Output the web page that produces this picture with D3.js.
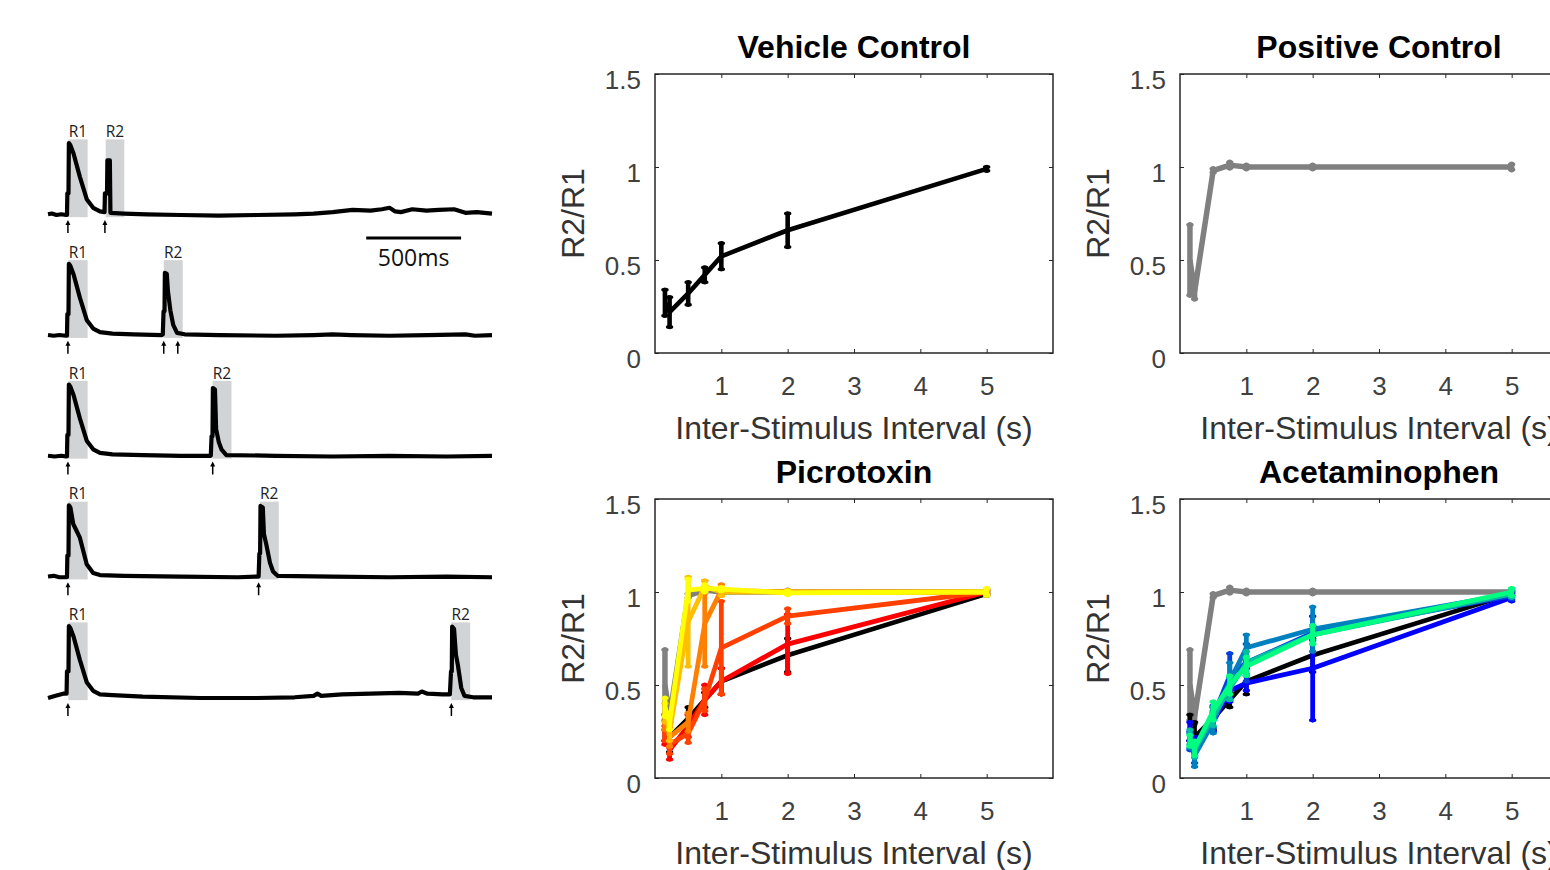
<!DOCTYPE html>
<html>
<head>
<meta charset="utf-8">
<script src="https://cdnjs.cloudflare.com/ajax/libs/d3/7.8.5/d3.min.js"></script>
<style>
  body { margin: 0; background: #fff; }
  svg { display: block; }
</style>
</head>
<body>
<svg id="fig" width="1550" height="870"></svg>
<script>
// ---------- paired-pulse data (R2/R1 vs inter-stimulus interval) ----------
let isi = [0.15, 0.22, 0.5, 0.75, 1, 2, 5];

let vehicleMean = [0.27, 0.22, 0.32, 0.42, 0.52, 0.66, 0.99];
let vehicleErr  = [0.07, 0.08, 0.06, 0.04, 0.07, 0.09, 0.01];

let positiveMean = [0.5, 0.33, 0.98, 1.01, 1.0, 1.0, 1.0];
let positiveErr  = [0.19, 0.04, 0.01, 0.015, 0.01, 0.01, 0.015];

let picroColors = ["#ff0000", "#ff4000", "#ff8000", "#ffbf00", "#ffff00"];
let picroMean = [
  [0.22, 0.15, 0.28, 0.42, 0.52, 0.72, 1.0],
  [0.24, 0.18, 0.24, 0.42, 0.70, 0.87, 1.0],
  [0.30, 0.22, 0.30, 0.83, 1.01, 1.0, 1.0],
  [0.35, 0.25, 0.84, 1.03, 1.0, 1.0, 1.0],
  [0.38, 0.30, 1.01, 1.02, 1.015, 0.995, 1.0]
];
let picroErr = [
  [0.04, 0.05, 0.06, 0.08, 0.07, 0.16, 0.01],
  [0.04, 0.05, 0.05, 0.06, 0.25, 0.04, 0.01],
  [0.04, 0.05, 0.05, 0.23, 0.03, 0.01, 0.01],
  [0.05, 0.05, 0.24, 0.03, 0.02, 0.01, 0.01],
  [0.05, 0.04, 0.06, 0.02, 0.01, 0.01, 0.02]
];

let acetaColors = ["#0000ff", "#0040df", "#0080bf", "#00bf9f", "#00ff80"];
let acetaMean = [
  [0.25, 0.17, 0.30, 0.47, 0.51, 0.59, 0.97],
  [0.20, 0.13, 0.33, 0.55, 0.62, 0.78, 0.98],
  [0.20, 0.12, 0.30, 0.52, 0.70, 0.80, 0.99],
  [0.22, 0.15, 0.33, 0.48, 0.62, 0.77, 0.99],
  [0.20, 0.16, 0.36, 0.50, 0.60, 0.77, 1.0]
];
let acetaErr = [
  [0.05, 0.05, 0.05, 0.06, 0.04, 0.28, 0.02],
  [0.05, 0.05, 0.06, 0.12, 0.10, 0.04, 0.02],
  [0.04, 0.06, 0.06, 0.10, 0.07, 0.12, 0.02],
  [0.04, 0.04, 0.05, 0.06, 0.06, 0.05, 0.02],
  [0.03, 0.04, 0.05, 0.05, 0.05, 0.05, 0.02]
];

let xTicks = [1, 2, 3, 4, 5];
let yTicks = [0, 0.5, 1, 1.5];
let panelTitles = ["Vehicle Control", "Positive Control", "Picrotoxin", "Acetaminophen"];
let xLabel = "Inter-Stimulus Interval (s)";
let yLabel = "R2/R1";

// ---------- example traces: [time (ms), amplitude / R1 peak] ----------
let traceRows = [
  [[0, 0.01], [20, 0.02], [45, 0.0], [70, 0.01], [95, 0.0], [100, 0.0], [102, 0.3], [108, 0.3], [110, 1.0], [118, 0.97],
   [135, 0.85], [168, 0.53], [204, 0.22], [238, 0.1], [274, 0.05], [298, 0.04], [300, 0.3], [311, 0.3], [313, 0.76],
   [326, 0.76], [329, 0.03], [400, 0.02], [520, 0.01], [700, 0.0], [900, -0.01], [1100, 0.0], [1300, 0.01], [1400, 0.02],
   [1500, 0.04], [1605, 0.07], [1700, 0.06], [1760, 0.08], [1800, 0.1], [1830, 0.05], [1860, 0.04], [1920, 0.08],
   [1995, 0.06], [2060, 0.07], [2140, 0.08], [2200, 0.03], [2260, 0.04], [2300, 0.03], [2340, 0.02]],
  [[0, 0.01], [30, 0.0], [60, 0.01], [95, 0.0], [100, 0.0], [102, 0.3], [108, 0.3], [110, 1.0], [118, 0.97],
   [135, 0.85], [168, 0.53], [204, 0.22], [238, 0.1], [274, 0.05], [340, 0.03], [450, 0.02], [600, 0.01],
   [605, 0.02], [609, 0.34], [614, 0.34], [616, 0.875], [626, 0.86], [632, 0.62], [645, 0.35], [660, 0.15],
   [680, 0.04], [720, 0.02], [900, 0.01], [1200, 0.0], [1400, 0.01], [1500, 0.02], [1600, 0.01], [1800, 0.0],
   [2000, 0.01], [2200, 0.02], [2250, 0.0], [2340, 0.01]],
  [[0, 0.01], [35, 0.0], [70, 0.01], [95, 0.0], [100, 0.0], [102, 0.3], [108, 0.3], [110, 1.0], [118, 0.97],
   [135, 0.85], [168, 0.53], [204, 0.22], [238, 0.1], [274, 0.05], [340, 0.03], [500, 0.02], [700, 0.01],
   [858, 0.01], [862, 0.28], [867, 0.28], [869, 0.95], [880, 0.93], [886, 0.38], [900, 0.2], [914, 0.1],
   [940, 0.02], [1200, 0.01], [1500, 0.0], [1800, 0.01], [2100, 0.0], [2340, 0.01]],
  [[0, 0.01], [30, 0.02], [60, 0.0], [95, 0.0], [100, 0.0], [102, 0.3], [108, 0.3], [110, 1.0], [118, 0.97],
   [133, 0.74], [168, 0.55], [204, 0.18], [238, 0.06], [274, 0.03], [400, 0.02], [700, 0.01], [1000, 0.0],
   [1110, 0.01], [1114, 0.33], [1118, 0.33], [1120, 0.99], [1132, 0.97], [1138, 0.6], [1151, 0.45], [1170, 0.2],
   [1186, 0.08], [1210, 0.02], [1500, 0.01], [1800, 0.0], [2100, 0.01], [2340, 0.0]],
  [[0, 0.0], [40, 0.03], [80, 0.06], [98, 0.06], [100, 0.37], [108, 0.37], [110, 1.0], [118, 0.97],
   [135, 0.85], [168, 0.53], [204, 0.22], [238, 0.1], [274, 0.05], [340, 0.04], [500, 0.02], [800, 0.0],
   [1100, 0.0], [1300, 0.01], [1400, 0.03], [1420, 0.06], [1440, 0.03], [1550, 0.05], [1700, 0.06], [1850, 0.07],
   [1950, 0.06], [1970, 0.09], [2000, 0.06], [2080, 0.05], [2118, 0.05], [2124, 0.37], [2128, 0.37], [2130, 0.99],
   [2140, 0.96], [2150, 0.6], [2160, 0.46], [2178, 0.14], [2195, 0.03], [2240, 0.01], [2340, 0.01]]
];
let traceStims = [[105, 300], [105, 610, 684], [105, 868], [105, 1110], [105, 2126]];
let r1Window = [107, 209];
let r2Windows = [[304, 402], [610, 710], [867, 967], [1116, 1216], [2125, 2225]];
let scaleBar = [1677, 2177];
let scaleBarText = "500ms";

// ---------- drawing ----------
let svg = d3.select("#fig");
svg.append("rect").attr("width", 1550).attr("height", 870).attr("fill", "#fff");

let traceFont = "'Open Sans', 'DejaVu Sans', sans-serif";
let tScale = d3.scaleLinear().domain([0, 2340]).range([48, 492]);

traceRows.forEach(function (row, i) {
  let base = 215 + i * 120.75;
  let yA = d3.scaleLinear().domain([0, 1]).range([base, base - 72]);
  let g = svg.append("g");
  let wins = [{w: r1Window, name: "R1"}, {w: r2Windows[i], name: "R2"}];

  // shaded response windows
  g.selectAll("rect")
    .data(wins)
    .join("rect")
    .attr("x", d => tScale(d.w[0]))
    .attr("y", yA(1.05))
    .attr("width", d => tScale(d.w[1]) - tScale(d.w[0]))
    .attr("height", yA(-0.03) - yA(1.05))
    .attr("fill", "#d2d3d5");

  g.selectAll("text")
    .data(wins)
    .join("text")
    .attr("x", d => (tScale(d.w[0]) + tScale(d.w[1])) / 2)
    .attr("y", yA(1.08))
    .attr("text-anchor", "middle")
    .attr("font-family", traceFont)
    .attr("font-size", 15.5)
    .attr("fill", "#222")
    .text(d => d.name);

  g.append("path")
    .datum(row)
    .attr("d", d3.line().x(d => tScale(d[0])).y(d => yA(d[1])))
    .attr("fill", "none")
    .attr("stroke", "#000")
    .attr("stroke-width", 4.2)
    .attr("stroke-linejoin", "round");

  // stimulus arrows
  let arr = g.selectAll("g.arrow")
    .data(traceStims[i])
    .join("g")
    .attr("class", "arrow")
    .attr("transform", d => `translate(${tScale(d)},${base})`);
  arr.append("line")
    .attr("y1", 8).attr("y2", 18)
    .attr("stroke", "#000").attr("stroke-width", 1.5);
  arr.append("path")
    .attr("d", "M0,5 L-2.5,10 L2.5,10 Z")
    .attr("fill", "#000");
});

// 500 ms scale bar
svg.append("line")
  .attr("x1", tScale(scaleBar[0])).attr("x2", tScale(scaleBar[1]))
  .attr("y1", 238).attr("y2", 238)
  .attr("stroke", "#000").attr("stroke-width", 3.2);
svg.append("text")
  .attr("x", (tScale(scaleBar[0]) + tScale(scaleBar[1])) / 2)
  .attr("y", 266)
  .attr("text-anchor", "middle")
  .attr("font-family", traceFont)
  .attr("font-size", 23)
  .attr("fill", "#111")
  .text(scaleBarText);

// ---------- R2/R1 panels ----------
let pw = 398, ph = 279;
let axFont = "'Liberation Sans', Arial, Helvetica, sans-serif";
let axColor = "#262626";

let gray = {m: positiveMean, e: positiveErr, c: "#808080", w: 5.5};
let black = {m: vehicleMean, e: vehicleErr, c: "#000000", w: 4.6};

let panels = [
  {left: 655, top: 74, series: [black]},
  {left: 1180, top: 74, series: [gray]},
  {left: 655, top: 499, series: [gray, black].concat(picroMean.map((m, k) => ({m: m, e: picroErr[k], c: picroColors[k], w: 4.8})))},
  {left: 1180, top: 499, series: [gray, black].concat(acetaMean.map((m, k) => ({m: m, e: acetaErr[k], c: acetaColors[k], w: 4.8})))}
];

panels.forEach(function (p, i) {
  let g = svg.append("g").attr("transform", `translate(${p.left},${p.top})`);
  let x = d3.scaleLinear().domain([0, 6]).range([0, pw]);
  let y = d3.scaleLinear().domain([0, 1.5]).range([ph, 0]);

  // series with error bars
  p.series.forEach(function (s) {
    let pts = isi.map((v, k) => ({x: v, m: s.m[k], e: s.e[k]}));
    let sg = g.append("g");
    sg.append("path")
      .datum(pts)
      .attr("d", d3.line().x(d => x(d.x)).y(d => y(d.m)))
      .attr("fill", "none")
      .attr("stroke", s.c)
      .attr("stroke-width", s.w)
      .attr("stroke-linejoin", "round");
    sg.selectAll("line.bar")
      .data(pts)
      .join("line")
      .attr("class", "bar")
      .attr("x1", d => x(d.x)).attr("x2", d => x(d.x))
      .attr("y1", d => y(d.m - d.e)).attr("y2", d => y(d.m + d.e))
      .attr("stroke", s.c)
      .attr("stroke-width", s.w)
      .attr("stroke-linecap", "round");
    sg.selectAll("path.cap")
      .data(pts)
      .join("path")
      .attr("class", "cap")
      .attr("d", d => `M${x(d.x) - 2},${y(d.m - d.e)}H${x(d.x) + 2}M${x(d.x) - 2},${y(d.m + d.e)}H${x(d.x) + 2}`)
      .attr("stroke", s.c)
      .attr("stroke-width", 3.5)
      .attr("stroke-linecap", "round");
  });

  // axes, ticks pointing inward on all four sides
  g.append("g")
    .attr("transform", `translate(0,${ph})`)
    .call(d3.axisBottom(x).tickValues(xTicks).tickSize(-4).tickPadding(23.5).tickFormat(d3.format("d")));
  let left = g.append("g")
    .call(d3.axisLeft(y).tickValues(yTicks).tickSize(-4).tickPadding(14).tickFormat(d => d));
  g.append("g").call(d3.axisTop(x).tickValues(xTicks).tickSize(-4).tickFormat(""));
  g.append("g").attr("transform", `translate(${pw},0)`)
    .call(d3.axisRight(y).tickValues(yTicks).tickSize(-4).tickFormat(""));

  g.selectAll(".domain").remove();
  g.selectAll(".tick line").attr("stroke", axColor).attr("stroke-width", 1);
  g.selectAll(".tick text")
    .attr("font-family", axFont)
    .attr("font-size", 26)
    .attr("fill", "#404040");
  left.selectAll(".tick text").attr("dy", "0.55em");

  g.append("rect")
    .attr("width", pw).attr("height", ph)
    .attr("fill", "none")
    .attr("stroke", axColor)
    .attr("stroke-width", 1.5);

  g.append("text")
    .attr("x", pw / 2).attr("y", -16)
    .attr("text-anchor", "middle")
    .attr("font-family", axFont)
    .attr("font-weight", "bold")
    .attr("font-size", 32)
    .attr("fill", "#000")
    .text(panelTitles[i]);

  g.append("text")
    .attr("x", pw / 2).attr("y", ph + 86)
    .attr("text-anchor", "middle")
    .attr("font-family", axFont)
    .attr("font-size", 32)
    .attr("fill", "#333")
    .text(xLabel);

  g.append("text")
    .attr("transform", `translate(-71,${ph / 2}) rotate(-90)`)
    .attr("text-anchor", "middle")
    .attr("font-family", axFont)
    .attr("font-size", 32)
    .attr("fill", "#333")
    .text(yLabel);
});
</script>
</body>
</html>
